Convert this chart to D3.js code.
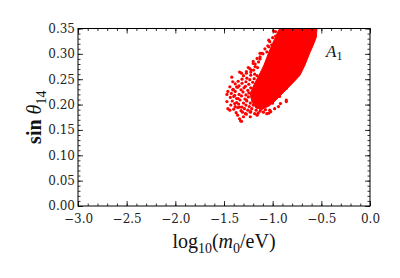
<!DOCTYPE html>
<html>
<head>
<meta charset="utf-8">
<script src="https://cdn.jsdelivr.net/npm/d3@7"></script>
<style>
  body { margin: 0; background: #fff; }
  .tick text { font-family: "DejaVu Serif", serif; font-size: 12px; fill: #222; }
  .lbl { font-family: "Liberation Serif", serif; fill: #111; }
</style>
</head>
<body>
<div id="chart"></div>
<script>
// tick labels
var xTicks = [-3.0, -2.5, -2.0, -1.5, -1.0, -0.5, 0.0];
var yTicks = [0.00, 0.05, 0.10, 0.15, 0.20, 0.25, 0.30, 0.35];

// dense core of the A1 cloud (outline)
var coreX = [-0.935, -0.544, -0.555, -0.586, -0.627, -0.668, -0.719, -0.781, -0.842, -0.914,
             -0.976, -1.038, -1.110, -1.171, -1.212, -1.233, -1.192, -1.140, -1.089, -1.038,
             -0.986];
var coreY = [0.348, 0.348, 0.331, 0.316, 0.298, 0.278, 0.258, 0.245, 0.233, 0.219,
             0.207, 0.197, 0.191, 0.193, 0.205, 0.221, 0.239, 0.258, 0.278, 0.304,
             0.327];

// sparser points of the cloud, [log10(m0/eV), sin theta14]
var cloudPts = [
  [-1.47, 0.220], [-1.42, 0.254], [-1.44, 0.235], [-1.41, 0.245], [-1.46, 0.192],
  [-1.36, 0.179], [-1.34, 0.172], [-1.28, 0.182], [-1.23, 0.185], [-1.13, 0.187],
  [-1.03, 0.189], [-0.92, 0.202], [-1.39, 0.202], [-1.37, 0.212], [-1.41, 0.229],
  [-1.34, 0.195], [-1.16, 0.179], [-1.06, 0.182], [-0.98, 0.192], [-1.34, 0.264],
  [-1.25, 0.273], [-1.20, 0.285], [-1.16, 0.291], [-1.11, 0.301], [-1.08, 0.310],
  [-1.04, 0.314], [-1.03, 0.324], [-0.99, 0.345], [-1.18, 0.275], [-1.22, 0.268],
  [-1.13, 0.294], [-1.06, 0.304], [-1.32, 0.262], [-1.46, 0.226], [-1.47, 0.206],
  [-1.44, 0.189], [-1.33, 0.168], [-1.30, 0.176], [-1.13, 0.301], [-1.20, 0.281],
  [-1.04, 0.327], [-0.97, 0.344], [-1.27, 0.265], [-1.37, 0.235], [-1.40, 0.216],
  [-1.27, 0.209], [-1.12, 0.191], [-1.02, 0.186], [-0.94, 0.196], [-0.86, 0.206],
  [-1.32, 0.167], [-1.23, 0.176], [-1.15, 0.183], [-1.04, 0.183], [-0.86, 0.209],
  [-1.300, 0.257], [-1.265, 0.252], [-1.225, 0.258], [-1.190, 0.251], [-1.160, 0.257],
  [-1.355, 0.246], [-1.315, 0.250], [-1.275, 0.245], [-1.235, 0.249], [-1.205, 0.244],
  [-1.385, 0.241], [-1.345, 0.237], [-1.315, 0.242], [-1.280, 0.236], [-1.245, 0.240],
  [-1.405, 0.230], [-1.360, 0.234], [-1.325, 0.229], [-1.295, 0.233], [-1.255, 0.228],
  [-1.225, 0.233], [-1.425, 0.222], [-1.385, 0.226], [-1.345, 0.220], [-1.305, 0.225],
  [-1.275, 0.219], [-1.245, 0.223], [-1.435, 0.214], [-1.390, 0.218], [-1.355, 0.212],
  [-1.320, 0.217], [-1.285, 0.211], [-1.250, 0.215], [-1.415, 0.207], [-1.370, 0.204],
  [-1.335, 0.209], [-1.300, 0.203], [-1.265, 0.207], [-1.230, 0.203], [-1.430, 0.199],
  [-1.385, 0.196], [-1.350, 0.201], [-1.315, 0.195], [-1.275, 0.199], [-1.240, 0.196],
  [-1.200, 0.199], [-1.400, 0.191], [-1.360, 0.194], [-1.325, 0.188], [-1.290, 0.192],
  [-1.255, 0.189], [-1.215, 0.192], [-1.170, 0.189], [-1.135, 0.194], [-1.075, 0.190],
  [-1.375, 0.184], [-1.310, 0.185], [-1.270, 0.181], [-1.225, 0.186], [-1.185, 0.182],
  [-1.095, 0.185], [-1.180, 0.280], [-1.145, 0.284], [-1.235, 0.271], [-1.195, 0.268],
  [-1.155, 0.273], [-1.270, 0.262], [-1.225, 0.264], [-1.185, 0.260], [-1.130, 0.290],
  [-1.100, 0.300], [-1.050, 0.316], [-1.010, 0.318], [-1.000, 0.332], [-0.970, 0.335],
  [-0.560, 0.335], [-0.600, 0.318], [-0.640, 0.300], [-0.690, 0.280], [-0.740, 0.262],
  [-0.790, 0.248], [-0.860, 0.232], [-0.930, 0.216], [-1.000, 0.203]
];

var w = 400;
var h = 278;
var padLeft = 78, padRight = 370, padTop = 28.5, padBottom = 206;

var xscale = d3.scaleLinear().domain([-3, 0]).range([padLeft, padRight]);
var yscale = d3.scaleLinear().domain([0, 0.35]).range([padBottom, padTop]);

var svg = d3.select("#chart")
            .append("svg")
            .attr("width", w)
            .attr("height", h);

// data
var core = coreX.map(function(d, i) { return [d, coreY[i]]; });
svg.append("path")
    .datum(core)
    .attr("fill", "#ff0000")
    .attr("stroke", "#ff0000")
    .attr("stroke-width", 1)
    .attr("stroke-linejoin", "round")
    .attr("d", d3.line()
        .x(function(d) { return xscale(d[0]); })
        .y(function(d) { return yscale(d[1]); })
        .curve(d3.curveLinearClosed));

svg.append("g")
    .selectAll("circle")
    .data(cloudPts)
    .enter()
    .append("circle")
    .attr("cx", function(d) { return xscale(d[0]); })
    .attr("cy", function(d) { return yscale(d[1]); })
    .attr("r", 1.6)
    .attr("fill", "#ff0000");

// axes, ticks point inward
var xMinor = d3.range(-3, 0.001, 0.1).map(function(v) { return +v.toFixed(1); });
var yMinor = d3.range(0, 0.3501, 0.01).map(function(v) { return +v.toFixed(2); });

function addAxis(axis, tr) {
    var g = svg.append("g").attr("transform", tr).call(axis);
    g.select(".domain").remove();
    g.selectAll("line").attr("stroke", "#000").attr("stroke-width", 0.8);
    return g;
}

addAxis(d3.axisBottom(xscale).tickValues(xTicks).tickSize(-5).tickPadding(8)
        .tickFormat(d3.format(".1f")), "translate(0," + padBottom + ")");
addAxis(d3.axisBottom(xscale).tickValues(xMinor).tickSize(-2.5).tickFormat(""),
        "translate(0," + padBottom + ")");
addAxis(d3.axisTop(xscale).tickValues(xTicks).tickSize(-5).tickFormat(""),
        "translate(0," + padTop + ")");
addAxis(d3.axisTop(xscale).tickValues(xMinor).tickSize(-2.5).tickFormat(""),
        "translate(0," + padTop + ")");

addAxis(d3.axisLeft(yscale).tickValues(yTicks).tickSize(-5).tickPadding(3)
        .tickFormat(d3.format(".2f")), "translate(" + padLeft + ",0)");
addAxis(d3.axisLeft(yscale).tickValues(yMinor).tickSize(-2.5).tickFormat(""),
        "translate(" + padLeft + ",0)");
addAxis(d3.axisRight(yscale).tickValues(yTicks).tickSize(-5).tickFormat(""),
        "translate(" + padRight + ",0)");
addAxis(d3.axisRight(yscale).tickValues(yMinor).tickSize(-2.5).tickFormat(""),
        "translate(" + padRight + ",0)");

svg.append("rect")
    .attr("x", padLeft)
    .attr("y", padTop)
    .attr("width", padRight - padLeft)
    .attr("height", padBottom - padTop)
    .attr("fill", "none")
    .attr("stroke", "#000")
    .attr("stroke-width", 1);

// labels
var xl = svg.append("text")
    .attr("class", "lbl")
    .attr("x", (padLeft + padRight) / 2)
    .attr("y", 248)
    .attr("text-anchor", "middle")
    .style("font-size", "20px");
xl.append("tspan").text("log");
xl.append("tspan").attr("dy", 5).style("font-size", "14px").text("10");
xl.append("tspan").attr("dy", -5).text("(");
xl.append("tspan").style("font-style", "italic").text("m");
xl.append("tspan").attr("dy", 5).style("font-size", "14px").text("0");
xl.append("tspan").attr("dy", -5).text("/eV)");

var yl = svg.append("text")
    .attr("class", "lbl")
    .attr("transform", "translate(41," + ((padTop + padBottom) / 2) + ") rotate(-90)")
    .attr("text-anchor", "middle")
    .style("font-size", "20px");
yl.append("tspan").style("font-weight", "bold").text("sin ");
yl.append("tspan").style("font-style", "italic").text("\u03b8");
yl.append("tspan").attr("dy", 5).style("font-size", "14px").text("14");

var al = svg.append("text")
    .attr("class", "lbl")
    .attr("x", 326)
    .attr("y", 57)
    .style("font-size", "17px");
al.append("tspan").style("font-style", "italic").text("A");
al.append("tspan").attr("dy", 3).style("font-size", "12px").text("1");
</script>
</body>
</html>
